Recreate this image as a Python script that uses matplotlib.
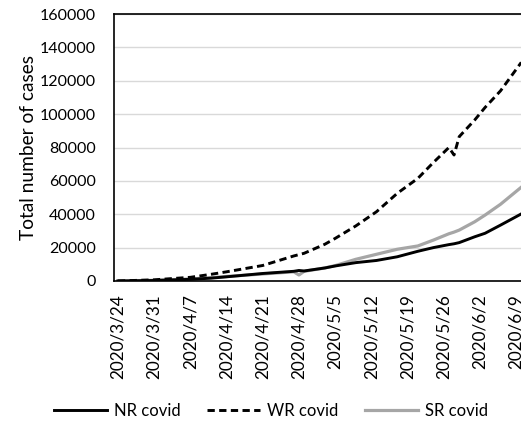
import matplotlib
matplotlib.use("Agg")
import matplotlib.pyplot as plt
import matplotlib.dates as mdates
import numpy as np
import pandas as pd

dates = ["2020-03-24", "2020-03-31", "2020-04-07", "2020-04-11", "2020-04-14",
         "2020-04-21", "2020-04-27", "2020-04-28", "2020-04-29", "2020-05-03",
         "2020-05-05", "2020-05-09", "2020-05-13", "2020-05-17", "2020-05-21",
         "2020-05-24", "2020-05-27", "2020-05-28", "2020-05-29", "2020-06-01",
         "2020-06-03", "2020-06-06", "2020-06-10"]

nr_covid = [0, 300, 1000, 1700, 2500, 4500, 5800, 6300, 6000, 7800, 9000, 11000,
            12300, 14500, 17800, 20000, 21800, 22300, 23000, 26500, 28600, 33500, 40200]
wr_covid = [0, 700, 2200, 4000, 5500, 9300, 15000, 15800, 16600, 22000, 25500, 33000,
            41500, 52500, 61500, 71000, 80000, 75500, 86500, 96500, 104000, 114000, 131000]
sr_covid = [0, 400, 1200, 2000, 2700, 4200, 5500, 3600, 5800, 7800, 9200, 13000,
            16000, 19000, 21000, 24500, 28300, 29300, 30500, 35500, 39500, 46000, 56200]

tick_dates = ["2020-03-24", "2020-03-31", "2020-04-07", "2020-04-14", "2020-04-21",
              "2020-04-28", "2020-05-05", "2020-05-12", "2020-05-19", "2020-05-26",
              "2020-06-02", "2020-06-09"]
tick_labels = ["2020/3/24", "2020/3/31", "2020/4/7", "2020/4/14", "2020/4/21",
               "2020/4/28", "2020/5/5", "2020/5/12", "2020/5/19", "2020/5/26",
               "2020/6/2", "2020/6/9"]
y_ticks = [0, 20000, 40000, 60000, 80000, 100000, 120000, 140000, 160000]

plt.rcParams['font.family'] = ['Lato', 'DejaVu Sans']

fig = plt.figure(figsize=(5.21, 4.26), dpi=100)
ax = fig.add_axes([0.2188, 0.3404, 0.7812, 0.6267])

x = pd.to_datetime(dates)
ax.plot(x, nr_covid, color='black', lw=2.1, label='NR covid', zorder=3,
        solid_joinstyle='round')
ax.plot(x, wr_covid, color='black', lw=2.1, dashes=(2.5, 1.5), label='WR covid',
        zorder=3)
ax.plot(x, sr_covid, color='#a6a6a6', lw=2.3, label='SR covid', zorder=2,
        solid_joinstyle='round')

t0 = mdates.date2num(pd.Timestamp("2020-03-24"))
ax.set_xlim(t0 - 0.77, t0 + 77.95)
ax.set_ylim(0, 160000)

ax.set_xticks(pd.to_datetime(tick_dates))
ax.set_xticklabels(tick_labels, rotation=90, fontsize=12.3)
ax.set_yticks(y_ticks)
ax.set_yticklabels([str(v) for v in y_ticks], fontsize=11.5)
ax.tick_params(axis='x', length=0, pad=9.5)
ax.tick_params(axis='y', length=0, pad=13)

ax.grid(axis='y', color='#d9d9d9', lw=1.0)
ax.set_axisbelow(True)
for s in ['left', 'bottom', 'top']:
    ax.spines[s].set_color('black')
    ax.spines[s].set_linewidth(1.2)
ax.spines['right'].set_visible(False)

ax.set_ylabel("Total number of cases", fontsize=13.8, labelpad=2)

fig.legend(loc='center', bbox_to_anchor=(0.52, 0.036), ncol=3, frameon=False,
           fontsize=12, handlelength=3.2, handletextpad=0.4, columnspacing=1.6)

fig.savefig("out.png", dpi=100)
